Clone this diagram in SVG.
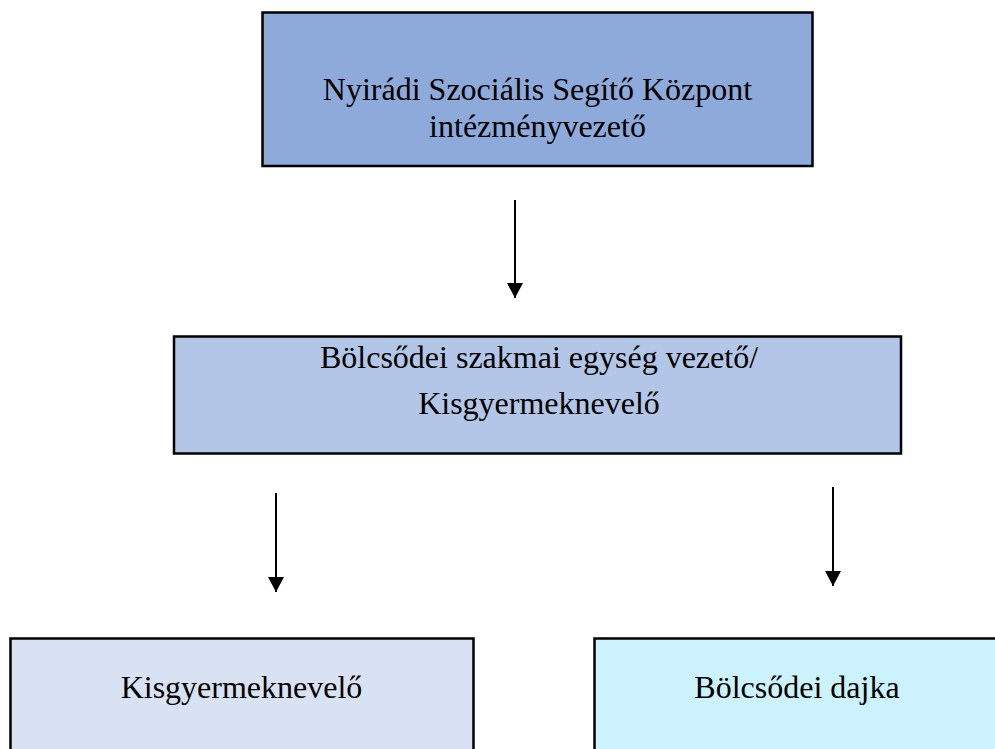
<svg xmlns="http://www.w3.org/2000/svg" width="995" height="749" viewBox="0 0 995 749">
<defs>
<marker id="ah" markerUnits="userSpaceOnUse" markerWidth="16" markerHeight="16" refX="15" refY="8" orient="auto">
<path d="M0,0 L15,8 L0,16 Z" fill="#000"/>
</marker>
<style>
.box{stroke:#000;stroke-width:2.5}
.t{font-family:"Liberation Serif","Times New Roman",serif;font-size:32px;fill:#000;text-anchor:middle}
.c{stroke:#000;stroke-width:2;fill:none}
</style>
</defs>
<rect width="995" height="749" fill="#fff"/>
<g id="node-top">
<rect class="box" x="262.5" y="12.5" width="550" height="153.5" fill="#8EAADB"/>
<text class="t" x="537.5" y="100">Nyirádi Szociális Segítő Központ</text>
<text class="t" x="537.5" y="137">intézményvezető</text>
</g>
<g id="node-middle">
<rect class="box" x="174" y="336.5" width="727" height="117" fill="#B4C6E7"/>
<text class="t" x="539" y="368">Bölcsődei szakmai egység vezető/</text>
<text class="t" x="539" y="414">Kisgyermeknevelő</text>
</g>
<g id="node-kisgyermeknevelo">
<rect class="box" x="10.5" y="638.5" width="463" height="120" fill="#D9E2F3"/>
<text class="t" x="241.5" y="698">Kisgyermeknevelő</text>
</g>
<g id="node-dajka">
<rect class="box" x="594.5" y="638.5" width="420" height="120" fill="#CCF2FE"/>
<text class="t" x="797" y="698">Bölcsődei dajka</text>
</g>
<g id="connectors">
<line class="c" x1="515" y1="200" x2="515" y2="298" marker-end="url(#ah)"/>
<line class="c" x1="276" y1="493" x2="276" y2="592" marker-end="url(#ah)"/>
<line class="c" x1="833" y1="487" x2="833" y2="586" marker-end="url(#ah)"/>
</g>
</svg>
